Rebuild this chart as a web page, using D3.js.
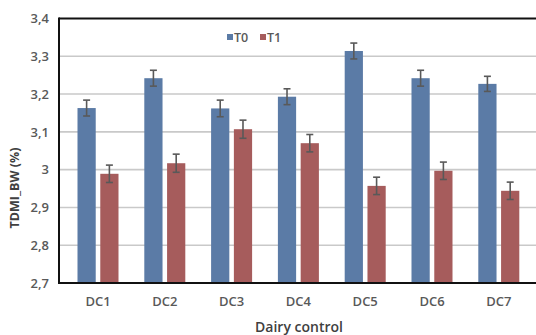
<!DOCTYPE html>
<html>
<head>
<meta charset="utf-8">
<script src="https://cdn.jsdelivr.net/npm/d3@7"></script>
<style>
  html, body { margin: 0; padding: 0; background: #fff; }
  svg { display: block; font-family: "Open Sans", "Liberation Sans", sans-serif; }
</style>
</head>
<body>
<div id="chart"></div>
<script>
const categories = ["DC1", "DC2", "DC3", "DC4", "DC5", "DC6", "DC7"];
const seriesNames = ["T0", "T1"];
const t0Values = [3.163, 3.242, 3.162, 3.193, 3.314, 3.242, 3.227];
const t1Values = [2.989, 3.017, 3.107, 3.070, 2.957, 2.997, 2.944];
const t0Errors = [0.021, 0.021, 0.022, 0.021, 0.021, 0.021, 0.020];
const t1Errors = [0.023, 0.024, 0.024, 0.023, 0.023, 0.023, 0.023];
const yTicks = [2.7, 2.8, 2.9, 3.0, 3.1, 3.2, 3.3, 3.4];

const colors = { T0: "#5b7ba6", T1: "#a65c5c" };

const W = 536, H = 335;
const plot = { left: 59, right: 536, top: 18.5, bottom: 283 };

const svg = d3.select("#chart").append("svg")
  .attr("width", W).attr("height", H);

const y = d3.scaleLinear().domain([2.7, 3.4]).range([plot.bottom, plot.top]);
const x = d3.scaleBand().domain(categories).range([64.6, 532.2]).paddingInner(0).paddingOuter(0);
const xs = d3.scaleBand().domain(seriesNames).range([x.bandwidth() / 2 - 20.5, x.bandwidth() / 2 + 20.5]).paddingInner(0.2);

const fmt = v => (Math.abs(v - 3) < 1e-9 ? "3" : d3.format(".1f")(v).replace(".", ","));

// gridlines
svg.append("g").selectAll("line").data(yTicks.slice(1, -1)).join("line")
  .attr("x1", plot.left).attr("x2", plot.right)
  .attr("y1", d => y(d)).attr("y2", d => y(d))
  .attr("stroke", "#c9c9c9").attr("stroke-width", 1.6);

// y axis labels
const yAxis = d3.axisLeft(y).tickValues(yTicks).tickFormat(fmt).tickSize(0).tickPadding(10);
svg.append("g").attr("transform", `translate(${plot.left},0)`).call(yAxis)
  .call(g => g.select(".domain").remove())
  .selectAll("text")
  .attr("font-size", 13).attr("font-weight", 600).attr("fill", "#595959")
  .attr("font-family", "Open Sans");

// bars
const data = categories.map((c, i) => ({
  cat: c,
  vals: [
    { s: "T0", v: t0Values[i], e: t0Errors[i] },
    { s: "T1", v: t1Values[i], e: t1Errors[i] }
  ]
}));

const groups = svg.append("g").selectAll("g").data(data).join("g")
  .attr("transform", d => `translate(${x(d.cat)},0)`);

groups.selectAll("rect").data(d => d.vals).join("rect")
  .attr("x", d => xs(d.s)).attr("width", xs.bandwidth())
  .attr("y", d => y(d.v)).attr("height", d => plot.bottom - y(d.v))
  .attr("fill", d => colors[d.s]);

const eb = groups.selectAll("g.err").data(d => d.vals).join("g").attr("class", "err")
  .attr("stroke", "#595959").attr("stroke-width", 1.6);
eb.append("line")
  .attr("x1", d => xs(d.s) + xs.bandwidth() / 2).attr("x2", d => xs(d.s) + xs.bandwidth() / 2)
  .attr("y1", d => y(d.v + d.e)).attr("y2", d => y(d.v - d.e));
eb.append("line")
  .attr("x1", d => xs(d.s) + xs.bandwidth() / 2 - 3.5).attr("x2", d => xs(d.s) + xs.bandwidth() / 2 + 3.5)
  .attr("y1", d => y(d.v + d.e)).attr("y2", d => y(d.v + d.e));
eb.append("line")
  .attr("x1", d => xs(d.s) + xs.bandwidth() / 2 - 3.5).attr("x2", d => xs(d.s) + xs.bandwidth() / 2 + 3.5)
  .attr("y1", d => y(d.v - d.e)).attr("y2", d => y(d.v - d.e));

// frame
svg.append("line").attr("x1", plot.left).attr("x2", plot.right)
  .attr("y1", plot.top).attr("y2", plot.top).attr("stroke", "#111").attr("stroke-width", 2);
svg.append("line").attr("x1", plot.left).attr("x2", plot.right)
  .attr("y1", plot.bottom).attr("y2", plot.bottom).attr("stroke", "#111").attr("stroke-width", 2);
svg.append("line").attr("x1", plot.left).attr("x2", plot.left)
  .attr("y1", plot.top - 1).attr("y2", plot.bottom + 1).attr("stroke", "#111").attr("stroke-width", 2);

// x axis labels
const xAxis = d3.axisBottom(x).tickSize(0).tickPadding(14);
svg.append("g").attr("transform", `translate(0,${plot.bottom})`).call(xAxis)
  .call(g => g.select(".domain").remove())
  .selectAll("text")
  .attr("font-size", 13).attr("font-weight", 600).attr("fill", "#595959")
  .attr("font-family", "Open Sans");

// axis titles
svg.append("text").attr("x", 299).attr("y", 332).attr("text-anchor", "middle")
  .attr("font-size", 14).attr("font-weight", 600).attr("fill", "#404040")
  .text("Dairy control");
svg.append("text").attr("transform", "translate(19,188) rotate(-90)").attr("text-anchor", "middle")
  .attr("font-size", 12.5).attr("font-weight", 700).attr("fill", "#404040")
  .text("TDMI_BW (%)");

// legend
const legend = svg.append("g").attr("transform", "translate(227,37)");
const li = legend.selectAll("g").data(seriesNames).join("g")
  .attr("transform", (d, i) => `translate(${i * 33},0)`);
li.append("rect").attr("x", 0).attr("y", -3).attr("width", 6).attr("height", 6)
  .attr("fill", d => colors[d]);
li.append("text").attr("x", 7).attr("y", 0).attr("dy", "0.36em")
  .attr("font-size", 12.5).attr("font-weight", 600).attr("fill", "#595959")
  .text(d => d);
</script>
</body>
</html>
